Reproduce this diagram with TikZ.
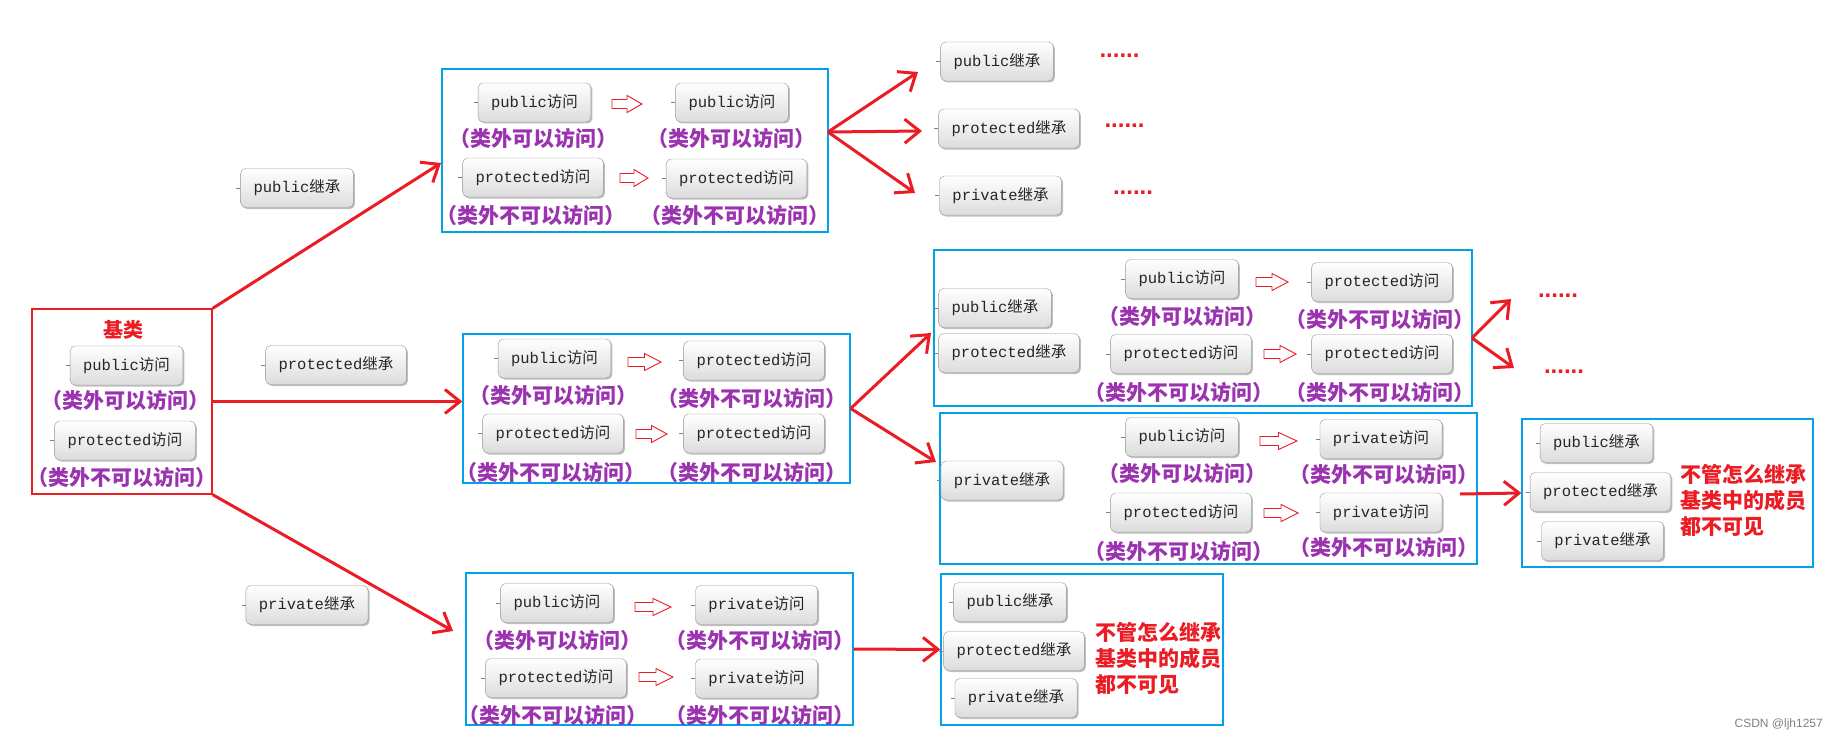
\documentclass[tikz,border=0pt]{standalone}
\usepackage{fontspec}
\usetikzlibrary{arrows.meta,shadows}
\newfontfamily\cjk{Noto Sans CJK SC}
\newfontfamily\mono{Liberation Mono}
\newfontfamily\wmfont{Liberation Sans}
\definecolor{myred}{RGB}{235,28,36}
\definecolor{mypurple}{RGB}{155,50,175}
\definecolor{myblue}{RGB}{0,162,232}
\definecolor{nodeborder}{RGB}{150,150,150}
\definecolor{nodebottom}{RGB}{220,220,220}
\newcommand\acc[1]{{\mono #1}{\cjk 访问}}
\newcommand\inh[1]{{\mono #1}{\cjk 继承}}
\newcommand\outok{{\cjk （类外可以访问）}}
\newcommand\outno{{\cjk （类外不可以访问）}}
\newcommand\harrow[3]{%
  \draw[hollowarrow] (#1,#2-4.5) -- (#1+#3/2,#2-4.5) -- (#1+#3/2,#2-8.5) -- (#1+#3,#2)
    -- (#1+#3/2,#2+8.5) -- (#1+#3/2,#2+4.5) -- (#1,#2+4.5) -- cycle;}
\tikzset{
  box/.style={draw=nodeborder, rounded corners=5pt, top color=white, bottom color=nodebottom,
    minimum height=39pt, inner xsep=13pt, inner ysep=0pt, text=black!85,
    font=\fontsize{15.5}{18}\selectfont,
    drop shadow={shadow xshift=1.5pt, shadow yshift=-1.5pt, opacity=0.25, fill=black}},
  note/.style={text=mypurple, font=\fontsize{21}{24}\selectfont\bfseries, inner sep=0pt},
  frame/.style={draw=myblue, line width=1.3pt, inner sep=0pt},
  redframe/.style={draw=myred, line width=1.3pt, inner sep=0pt},
  link/.style={draw=myred, line width=3pt, -{Straight Barb[length=15pt,width=24pt]}},
  hollowarrow/.style={draw=myred, fill=white, line width=0.9pt},
  dots/.style={text=myred, font=\wmfont\bfseries\fontsize{24}{24}\selectfont, inner sep=0pt},
  warn/.style={text=myred, font=\cjk\bfseries\fontsize{21}{26}\selectfont, align=left, inner sep=0pt, anchor=west},
  tickline/.style={draw=gray, line width=0.6pt},
}
\begin{document}
\begin{tikzpicture}[x=1pt,y=-1pt]
\useasboundingbox (0,0) rectangle (1835,741);
\fill[white] (0,0) rectangle (1835,741);

% ---------- containers ----------
\node[redframe, minimum width=180pt, minimum height=185pt] (base) at (122,401.5) {};
\node[frame, minimum width=386pt, minimum height=163pt] (box1) at (635,150.5) {};
\node[frame, minimum width=387pt, minimum height=149pt] (box2) at (656.5,408.5) {};
\node[frame, minimum width=538pt, minimum height=156pt] (box3) at (1203,328) {};
\node[frame, minimum width=537pt, minimum height=151pt] (box4) at (1208.5,488.5) {};
\node[frame, minimum width=291pt, minimum height=148pt] (box6) at (1667.5,493) {};
\node[frame, minimum width=387pt, minimum height=152pt] (box5) at (659.5,649) {};
\node[frame, minimum width=282pt, minimum height=151pt] (box7) at (1082,649.5) {};

% ---------- base class ----------
\node[text=myred, font=\cjk\bfseries\fontsize{20}{22}\selectfont, inner sep=0pt] (title) at (123,330) {基类};
\node[box] (b1) at (126.5,365.5) {\acc{public}};
\node[note] (bn1) at (125,400) {\outok};
\node[box] (b2) at (125,440.5) {\acc{protected}};
\node[note] (bn2) at (122,477) {\outno};

% ---------- inheritance labels ----------
\node[box] (l1) at (297,188) {\inh{public}};
\node[box] (l2) at (336,365) {\inh{protected}};
\node[box] (l3) at (307,605) {\inh{private}};

% ---------- box1 ----------
\node[box] (n1a) at (534.5,102.5) {\acc{public}};
\node[note] (p1a) at (533,138) {\outok};
\harrow{612}{104}{30}
\node[box] (n1b) at (732,102.5) {\acc{public}};
\node[note] (p1b) at (731,138) {\outok};
\node[box] (n1c) at (533,177.5) {\acc{protected}};
\node[note] (p1c) at (531,215) {\outno};
\harrow{620}{178}{28}
\node[box] (n1d) at (736.5,178.5) {\acc{protected}};
\node[note] (p1d) at (735,215) {\outno};

% ---------- top right ----------
\node[box] (t1) at (997,61.5) {\inh{public}};
\node[box] (t2) at (1009,128.5) {\inh{protected}};
\node[box] (t3) at (1000.5,195.5) {\inh{private}};
\node[dots] (d1) at (1119.5,56) {......};
\node[dots] (d2) at (1124.5,126) {......};
\node[dots] (d3) at (1133,193) {......};

% ---------- box2 ----------
\node[box] (n2a) at (554.5,358.5) {\acc{public}};
\node[note] (p2a) at (553,395) {\outok};
\harrow{628}{362}{33}
\node[box] (n2b) at (754,360.5) {\acc{protected}};
\node[note] (p2b) at (752,398) {\outno};
\node[box] (n2c) at (553,433.5) {\acc{protected}};
\node[note] (p2c) at (551,472) {\outno};
\harrow{636}{434}{31}
\node[box] (n2d) at (754,433.5) {\acc{protected}};
\node[note] (p2d) at (752,472) {\outno};

% ---------- box3 ----------
\node[box] (m1) at (995,308) {\inh{public}};
\node[box] (m2) at (1009,353) {\inh{protected}};
\node[box] (n3a) at (1182,279) {\acc{public}};
\node[note] (p3a) at (1182,316) {\outok};
\harrow{1256}{282}{32}
\node[box] (n3b) at (1382,282) {\acc{protected}};
\node[note] (p3b) at (1380,319) {\outno};
\node[box] (n3c) at (1181,354) {\acc{protected}};
\node[note] (p3c) at (1179,392) {\outno};
\harrow{1264}{354}{32}
\node[box] (n3d) at (1382,354) {\acc{protected}};
\node[note] (p3d) at (1380,392) {\outno};
\node[dots] (e1) at (1558,296) {......};
\node[dots] (e2) at (1564,372) {......};

% ---------- box4 ----------
\node[box] (q1) at (1002,480.5) {\inh{private}};
\node[box] (n4a) at (1182,437) {\acc{public}};
\node[note] (p4a) at (1182,473) {\outok};
\harrow{1260}{441}{37}
\node[box] (n4b) at (1381,439) {\acc{private}};
\node[note] (p4b) at (1384,474) {\outno};
\node[box] (n4c) at (1181,512.5) {\acc{protected}};
\node[note] (p4c) at (1179,551) {\outno};
\harrow{1264}{513}{34}
\node[box] (n4d) at (1381,512.5) {\acc{private}};
\node[note] (p4d) at (1384,547) {\outno};

% ---------- box6 ----------
\node[box] (r1) at (1596.5,443) {\inh{public}};
\node[box] (r2) at (1600.5,492) {\inh{protected}};
\node[box] (r3) at (1602.5,541) {\inh{private}};
\node[warn] (w1) at (1680,500) {不管怎么继承\\基类中的成员\\都不可见};

% ---------- box5 ----------
\node[box] (n5a) at (557,603) {\acc{public}};
\node[note] (p5a) at (557,640) {\outok};
\harrow{635}{607}{36}
\node[box] (n5b) at (756.5,605) {\acc{private}};
\node[note] (p5b) at (760,640) {\outno};
\node[box] (n5c) at (556,678) {\acc{protected}};
\node[note] (p5c) at (553,715) {\outno};
\harrow{639}{677}{34}
\node[box] (n5d) at (756.5,678.5) {\acc{private}};
\node[note] (p5d) at (760,715) {\outno};

% ---------- box7 ----------
\node[box] (s1) at (1010,602) {\inh{public}};
\node[box] (s2) at (1014,651) {\inh{protected}};
\node[box] (s3) at (1016,698) {\inh{private}};
\node[warn] (w2) at (1095,658) {不管怎么继承\\基类中的成员\\都不可见};

% ---------- small ticks on node left sides ----------
\foreach \n in {b1,b2,l1,l2,l3,n1a,n1b,n1c,n1d,t1,t2,t3,n2a,n2b,n2c,n2d,m1,m2,n3a,n3b,n3c,n3d,
  q1,n4a,n4b,n4c,n4d,r1,r2,r3,n5a,n5b,n5c,n5d,s1,s2,s3}
  \draw[tickline] (\n.west) -- ++(-4pt,0pt);

% ---------- red connectors ----------
\coordinate (tA) at (441,163);
\coordinate (tC) at (453,631);
\coordinate (o1) at (828,132);
\coordinate (tt1) at (918,72);
\coordinate (tt2) at (922,131);
\coordinate (tt3) at (915,193);
\coordinate (tm1) at (931,333);
\coordinate (tm2) at (936,462);
\coordinate (o3) at (1472,338);
\coordinate (te1) at (1511,299);
\coordinate (te2) at (1514,368);
\coordinate (o4) at (1460,494);

\draw[link] (base.north east) -- (tA);
\draw[link] (base.east) -- (base.east -| box2.west);
\draw[link] (base.south east) -- (tC);
\draw[link] (o1) -- (tt1);
\draw[link] (o1) -- (tt2);
\draw[link] (o1) -- (tt3);
\draw[link] (box2.east) -- (tm1);
\draw[link] (box2.east) -- (tm2);
\draw[link] (o3) -- (te1);
\draw[link] (o3) -- (te2);
\draw[link] (o4) -- (box6.west);
\draw[link] (box5.east) -- (box7.west);

% ---------- watermark ----------
\node[font=\wmfont\fontsize{12}{14}\selectfont, text=gray, anchor=east, inner sep=0pt] (wm) at (1823,724) {CSDN @ljh1257};
\end{tikzpicture}
\end{document}
